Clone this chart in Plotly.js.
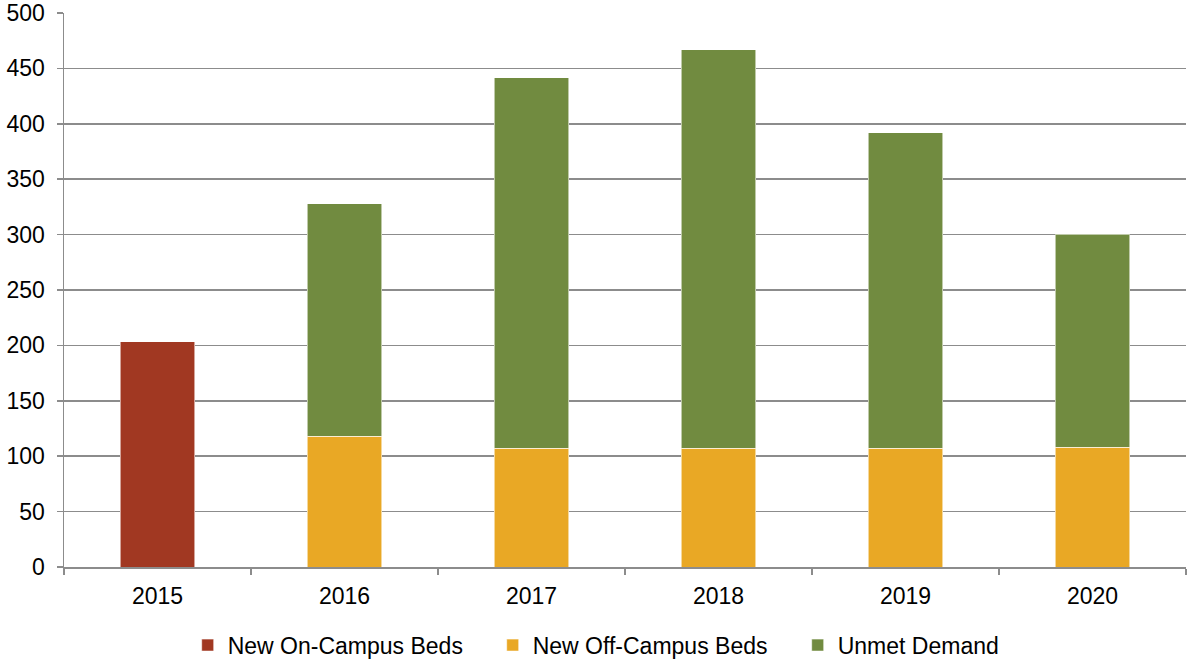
<!DOCTYPE html>
<html>
<head>
<meta charset="utf-8">
<script src="https://cdn.plot.ly/plotly-3.0.1.min.js"></script>
<style>html,body{margin:0;padding:0;background:#fff;}#chart{width:1188px;height:659px;}</style>
</head>
<body>
<div id="chart"></div>
<script>
const years = ["2015", "2016", "2017", "2018", "2019", "2020"];
const onCampus = [203.5, null, null, null, null, null];
const offCampus = [null, 118, 107, 107, 107, 108];
const unmetDemand = [null, 210, 334.5, 360, 285, 192.5];
const seriesNames = ["New On-Campus Beds", "New Off-Campus Beds", "Unmet Demand"];
const colors = ["#A13822", "#E9A825", "#718B40"];
const yTicks = [0, 50, 100, 150, 200, 250, 300, 350, 400, 450, 500];

const series = [onCampus, offCampus, unmetDemand];
const traces = series.map((vals, i) => ({
  type: "bar",
  x: years,
  y: vals,
  name: seriesNames[i],
  marker: { color: colors[i], line: { color: "rgba(255,255,255,0.55)", width: 1 } },
  width: 0.4,
  hoverinfo: "x+y+name"
}));

const layout = {
  barmode: "stack",
  width: 1188,
  height: 659,
  margin: { l: 64, r: 2, t: 13, b: 92, autoexpand: false },
  paper_bgcolor: "#fff",
  plot_bgcolor: "#fff",
  font: { family: "Liberation Sans, Arial, sans-serif", size: 23, color: "#000" },
  xaxis: {
    type: "category",
    showgrid: false,
    showline: true,
    linecolor: "#8c8c8c",
    linewidth: 1.5,
    ticks: "outside",
    tickson: "boundaries",
    ticklen: 6,
    tickcolor: "#8c8c8c",
    tickwidth: 1.5,
    tickfont: { size: 23 },
    ticklabelstandoff: 8,
    zeroline: false,
    automargin: false
  },
  yaxis: {
    range: [0, 500],
    tickvals: yTicks,
    ticktext: yTicks.map(String),
    showgrid: true,
    gridcolor: "#8c8c8c",
    gridwidth: 1.5,
    showline: true,
    linecolor: "#8c8c8c",
    linewidth: 1.5,
    ticks: "outside",
    ticklen: 6,
    tickcolor: "#8c8c8c",
    tickwidth: 1.5,
    tickfont: { size: 23 },
    ticklabelstandoff: 7,
    zeroline: false,
    automargin: false
  },
  legend: {
    orientation: "h",
    x: 0.518,
    xanchor: "center",
    y: -0.141,
    yanchor: "middle",
    font: { size: 23 },
    itemwidth: 30,
    entrywidth: 260,
    entrywidthmode: "pixels",
    traceorder: "normal"
  },
  showlegend: true
};

Plotly.newPlot("chart", traces, layout, { displayModeBar: false, staticPlot: true });
</script>
</body>
</html>
